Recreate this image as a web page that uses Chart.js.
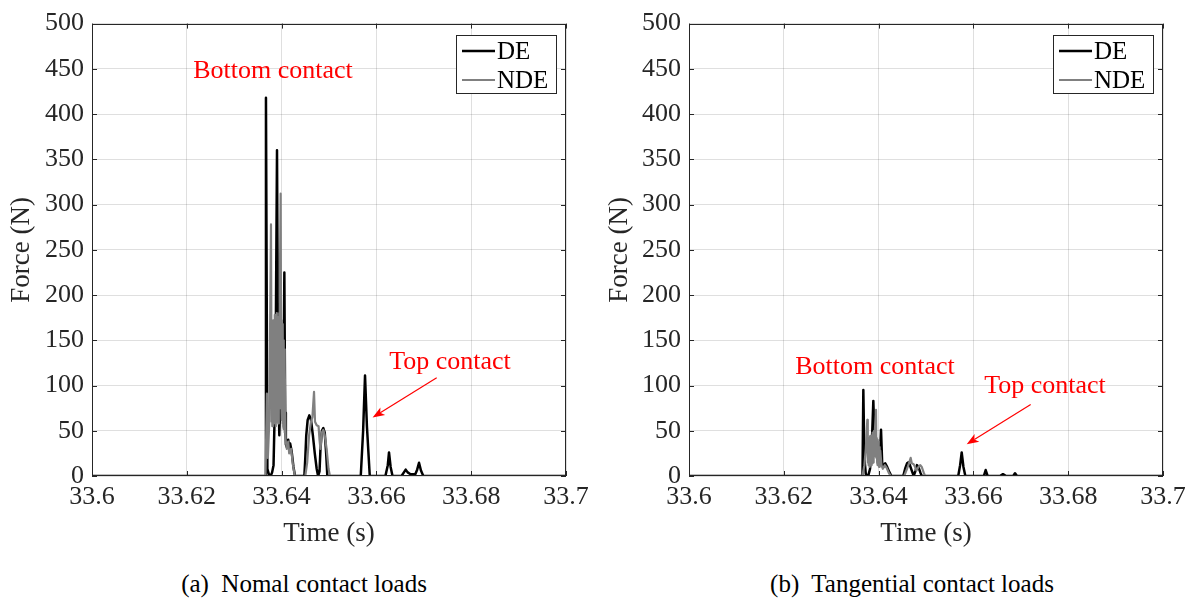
<!DOCTYPE html>
<html>
<head>
<meta charset="utf-8">
<script src="https://cdn.jsdelivr.net/npm/chart.js@4.4.1/dist/chart.umd.min.js"></script>
<style>
  html, body { margin: 0; padding: 0; background: #fff; }
  #wrap { position: relative; width: 1196px; height: 603px; overflow: hidden; background: #fff; }
  #wrap canvas { position: absolute; top: 0; }
  .cap { position: absolute; top: 569px; font-family: 'Liberation Serif', 'Times New Roman', serif;
         font-size: 25px; color: #000; white-space: nowrap; transform: translateX(-50%); line-height: 30px; }
</style>
</head>
<body>
<div id="wrap">
  <canvas id="normalChart" width="598" height="560" style="left:0px"></canvas>
  <canvas id="tangChart" width="598" height="560" style="left:598px"></canvas>
  <div class="cap" style="left:304px">(a)&nbsp; Nomal contact loads</div>
  <div class="cap" style="left:912px">(b)&nbsp; Tangential contact loads</div>
</div>
<script>
// ---- axis ticks ----
const xTicks = [33.6, 33.62, 33.64, 33.66, 33.68, 33.7];
const xTickLabels = ['33.6', '33.62', '33.64', '33.66', '33.68', '33.7'];
const yTicks = [0, 50, 100, 150, 200, 250, 300, 350, 400, 450, 500];
const yTickLabels = ['0', '50', '100', '150', '200', '250', '300', '350', '400', '450', '500'];

// ---- normal contact force, DE (time s, force N) ----
const normDeT = [33.6, 33.6365, 33.6367, 33.6370, 33.6373, 33.6377, 33.6380, 33.6383, 33.63850, 33.63880,
  33.63903, 33.63925, 33.63952, 33.63975, 33.63990, 33.64020, 33.64035, 33.64058, 33.64075, 33.64090,
  33.64110, 33.64140, 33.64160, 33.64180, 33.64210, 33.64250, 33.64283,
  33.64480, 33.64500, 33.64520, 33.64550, 33.64585, 33.64620, 33.64660, 33.64700, 33.64740, 33.64770,
  33.64800, 33.64820, 33.64850, 33.64880, 33.64910, 33.64940, 33.64965,
  33.65670, 33.65720, 33.65760, 33.65800, 33.65860,
  33.66190, 33.66240, 33.66266, 33.66300, 33.66340,
  33.66530, 33.66580, 33.66618, 33.66660, 33.66720, 33.66820, 33.66860, 33.66899, 33.66940, 33.66990, 33.7];
const normDeF = [0, 0, 418, 8, 2, 0, 4, 12, 60, 175,
  360, 120, 45, 90, 80, 130, 70, 225, 70, 35,
  32, 40, 30, 36, 28, 10, 0,
  0, 20, 45, 62, 67, 62, 45, 25, 8, 0,
  5, 30, 50, 53, 48, 25, 0,
  0, 50, 111, 55, 0,
  0, 12, 26, 10, 0,
  0, 4, 7, 4, 2, 2, 7, 14.6, 6, 0, 0];

// ---- normal contact force, NDE ----
const normNdeT = [33.6, 33.63660, 33.63690, 33.63710, 33.63740, 33.63776,
  33.63790, 33.63797, 33.63804, 33.63811, 33.63818, 33.63825, 33.63832, 33.63839, 33.63846, 33.63853,
  33.63860, 33.63867, 33.63874, 33.63881, 33.63888, 33.63895, 33.63902, 33.63909, 33.63916, 33.63923,
  33.63930, 33.63937, 33.63944, 33.63951, 33.63958, 33.63965, 33.63980, 33.63992, 33.63999, 33.64006,
  33.64013, 33.64020, 33.64027, 33.64034, 33.64041, 33.64048, 33.64055, 33.64062, 33.64070, 33.64085,
  33.64110, 33.64140, 33.64160, 33.64200, 33.64240, 33.64280,
  33.64500, 33.64540, 33.64580, 33.64620, 33.64650, 33.64684, 33.64705, 33.64740, 33.64780, 33.64800,
  33.64820, 33.64850, 33.64880, 33.64910, 33.64950, 33.64990, 33.65020, 33.7];
const normNdeF = [0, 0, 91, 20, 60, 278,
  60, 150, 55, 165, 65, 172, 58, 160, 70, 178,
  62, 168, 55, 175, 68, 180, 60, 170, 72, 176,
  58, 165, 66, 180, 75, 200, 312, 90, 172, 62,
  168, 58, 160, 55, 150, 52, 140, 48, 120, 40,
  30, 38, 25, 30, 12, 0,
  0, 15, 45, 60, 65, 93, 60, 56, 55, 40,
  30, 48, 51, 45, 30, 8, 0, 0];

// ---- tangential contact force, DE ----
const tangDeT = [33.6, 33.63660, 33.63678, 33.63700, 33.63730, 33.63780, 33.63820, 33.63860, 33.63889, 33.63910,
  33.63940, 33.63970, 33.64000, 33.64030, 33.64051, 33.64075, 33.64100, 33.64140, 33.64180, 33.64230, 33.64270,
  33.64520, 33.64560, 33.64600, 33.64630, 33.64660, 33.64700, 33.64740, 33.64780, 33.64810, 33.64840, 33.64880, 33.64910,
  33.65680, 33.65720, 33.65753, 33.65790, 33.65830,
  33.66220, 33.66259, 33.66300,
  33.66560, 33.66624, 33.66690, 33.66840, 33.66878, 33.66920, 33.7];
const tangDeF = [0, 0, 95, 20, 2, 0, 8, 40, 83, 45,
  22, 30, 28, 25, 51, 15, 10, 14, 10, 4, 0,
  0, 8, 14, 15, 12, 6, 0, 6, 12, 10, 4, 0,
  0, 12, 26, 10, 0,
  0, 6.6, 0,
  0, 2, 0, 0, 3.1, 0, 0];

// ---- tangential contact force, NDE ----
const tangNdeT = [33.6, 33.63660, 33.63700, 33.63730, 33.63762,
  33.63772, 33.63779, 33.63786, 33.63793, 33.63800, 33.63807, 33.63814, 33.63821, 33.63828, 33.63835,
  33.63842, 33.63849, 33.63856, 33.63863, 33.63870, 33.63877, 33.63884, 33.63891, 33.63898, 33.63905,
  33.63912, 33.63920, 33.63945, 33.63955, 33.63962, 33.63969, 33.63976, 33.63983, 33.63990, 33.63997,
  33.64004, 33.64011, 33.64018, 33.64025, 33.64035, 33.64060, 33.64090, 33.64130, 33.64170, 33.64220, 33.64260,
  33.64540, 33.64600, 33.64640, 33.64677, 33.64700, 33.64740, 33.64770, 33.64800, 33.64840, 33.64880,
  33.64910, 33.64950, 33.64980, 33.7];
const tangNdeF = [0, 0, 12, 30, 62,
  15, 40, 12, 42, 14, 38, 10, 44, 16, 40,
  12, 45, 18, 42, 14, 48, 20, 45, 15, 50,
  22, 45, 73, 20, 42, 15, 40, 12, 38, 14,
  35, 10, 32, 12, 28, 12, 8, 12, 9, 3, 0,
  0, 8, 14, 20, 14, 13, 10, 6, 10, 12,
  10, 4, 0, 0];

// ---- red annotations (time, force) ----
const notesNormal = [
  { text: 'Bottom contact', t: 33.63819, f: 447 },
  { text: 'Top contact', t: 33.67553, f: 125.6 }
];
const arrowNormal = { from: [33.67272, 108.7], to: [33.65920, 64.6] };
const notesTang = [
  { text: 'Bottom contact', t: 33.63924, f: 120 },
  { text: 'Top contact', t: 33.67511, f: 99 }
];
const arrowTang = { from: [33.67209, 79], to: [33.65859, 35.2] };

const SERIF = "'Liberation Serif', 'Times New Roman', serif";
const AXIS_COLOR = '#262626';

const toPoints = (ts, fs) => ts.map((t, i) => ({ x: t, y: fs[i] }));

// box, inward tick marks, legend and the red callouts
const framePlugin = {
  id: 'frame',
  afterDatasetsDraw(chart, args, opts) {
    const { ctx, chartArea: a, scales: { x, y } } = chart;
    ctx.save();
    ctx.strokeStyle = AXIS_COLOR;
    ctx.lineWidth = 1;
    const tl = 5;
    ctx.beginPath();
    x.ticks.forEach(tk => {
      const px = Math.round(x.getPixelForValue(tk.value)) + 0.5;
      ctx.moveTo(px, a.bottom); ctx.lineTo(px, a.bottom - tl);
      ctx.moveTo(px, a.top); ctx.lineTo(px, a.top + tl);
    });
    y.ticks.forEach(tk => {
      const py = Math.round(y.getPixelForValue(tk.value)) + 0.5;
      ctx.moveTo(a.left, py); ctx.lineTo(a.left + tl, py);
      ctx.moveTo(a.right, py); ctx.lineTo(a.right - tl, py);
    });
    ctx.stroke();
    ctx.strokeRect(Math.round(a.left) + 0.5, Math.round(a.top) + 0.5,
                   Math.round(a.width) - 1, Math.round(a.height) - 1);

    // legend
    const bw = 100, bh = 58;
    const bx = Math.round(a.right - 10 - bw), by = Math.round(a.top + 11);
    ctx.fillStyle = '#fff';
    ctx.fillRect(bx, by, bw, bh);
    ctx.strokeStyle = AXIS_COLOR;
    ctx.strokeRect(bx + 0.5, by + 0.5, bw, bh);
    ctx.font = `25px ${SERIF}`;
    ctx.textBaseline = 'middle';
    ctx.textAlign = 'left';
    chart.data.datasets.forEach((ds, i) => {
      const cy = by + 16 + i * 29;
      ctx.strokeStyle = ds.borderColor;
      ctx.lineWidth = ds.borderWidth;
      ctx.beginPath();
      ctx.moveTo(bx + 6, cy); ctx.lineTo(bx + 39, cy);
      ctx.stroke();
      ctx.fillStyle = '#000';
      ctx.fillText(ds.label, bx + 41, cy + 1);
    });

    // callouts
    ctx.fillStyle = '#ff0000';
    ctx.strokeStyle = '#ff0000';
    ctx.font = `26px ${SERIF}`;
    ctx.textAlign = 'center';
    ctx.textBaseline = 'middle';
    (opts.notes || []).forEach(n => {
      ctx.fillText(n.text, x.getPixelForValue(n.t), y.getPixelForValue(n.f));
    });
    if (opts.arrow) {
      const x0 = x.getPixelForValue(opts.arrow.from[0]), y0 = y.getPixelForValue(opts.arrow.from[1]);
      const x1 = x.getPixelForValue(opts.arrow.to[0]), y1 = y.getPixelForValue(opts.arrow.to[1]);
      const ang = Math.atan2(y1 - y0, x1 - x0);
      const hl = 12, hw = 4.5;
      const bxp = x1 - hl * Math.cos(ang), byp = y1 - hl * Math.sin(ang);
      ctx.lineWidth = 1.2;
      ctx.beginPath();
      ctx.moveTo(x0, y0); ctx.lineTo(bxp + 3 * Math.cos(ang), byp + 3 * Math.sin(ang));
      ctx.stroke();
      ctx.beginPath();
      ctx.moveTo(x1, y1);
      ctx.lineTo(bxp - hw * Math.sin(ang), byp + hw * Math.cos(ang));
      ctx.lineTo(bxp + 3 * Math.cos(ang), byp + 3 * Math.sin(ang));
      ctx.lineTo(bxp + hw * Math.sin(ang), byp - hw * Math.cos(ang));
      ctx.closePath();
      ctx.fill();
    }
    ctx.restore();
  }
};

function makeChart(id, deT, deF, ndeT, ndeF, notes, arrow, yAxisWidth, rightPad) {
  return new Chart(document.getElementById(id), {
    type: 'line',
    data: {
      datasets: [
        { label: 'DE', data: toPoints(deT, deF), borderColor: '#000000', borderWidth: 2.5, order: 1 },
        { label: 'NDE', data: toPoints(ndeT, ndeF), borderColor: '#808080', borderWidth: 2.2, order: 0 }
      ]
    },
    options: {
      responsive: false,
      animation: false,
      devicePixelRatio: 1,
      layout: { padding: { left: 0, right: rightPad, top: 22, bottom: 0 } },
      elements: {
        point: { radius: 0, hoverRadius: 0 },
        line: { tension: 0, borderJoinStyle: 'round', fill: false }
      },
      plugins: {
        legend: { display: false },
        tooltip: { enabled: false },
        frame: { notes, arrow }
      },
      scales: {
        x: {
          type: 'linear', min: 33.6, max: 33.7,
          afterBuildTicks: s => { s.ticks = xTicks.map(v => ({ value: v })); },
          afterFit: s => { s.height = 84; },
          grid: { color: 'rgba(38,38,38,0.15)', lineWidth: 1, drawTicks: false },
          border: { display: false },
          ticks: {
            autoSkip: false, maxRotation: 0, padding: 6, color: AXIS_COLOR,
            font: { family: SERIF, size: 26 },
            callback: (v, i) => xTickLabels[i]
          },
          title: {
            display: true, text: 'Time (s)', color: AXIS_COLOR,
            font: { family: SERIF, size: 27 }, padding: { top: 0, bottom: 10 }
          }
        },
        y: {
          type: 'linear', min: 0, max: 500,
          afterBuildTicks: s => { s.ticks = yTicks.map(v => ({ value: v })); },
          afterFit: s => { s.width = yAxisWidth; },
          grid: { color: 'rgba(38,38,38,0.15)', lineWidth: 1, drawTicks: false },
          border: { display: false },
          ticks: {
            autoSkip: false, padding: 8, color: AXIS_COLOR,
            font: { family: SERIF, size: 26 },
            callback: (v, i) => yTickLabels[i]
          },
          title: {
            display: true, text: 'Force (N)', color: AXIS_COLOR,
            font: { family: SERIF, size: 27 }, padding: { top: 6, bottom: 0 }
          }
        }
      }
    },
    plugins: [framePlugin]
  });
}

makeChart('normalChart', normDeT, normDeF, normNdeT, normNdeF, notesNormal, arrowNormal, 92, 32);
makeChart('tangChart', tangDeT, tangDeF, tangNdeT, tangNdeF, notesTang, arrowTang, 91, 33);
</script>
</body>
</html>
